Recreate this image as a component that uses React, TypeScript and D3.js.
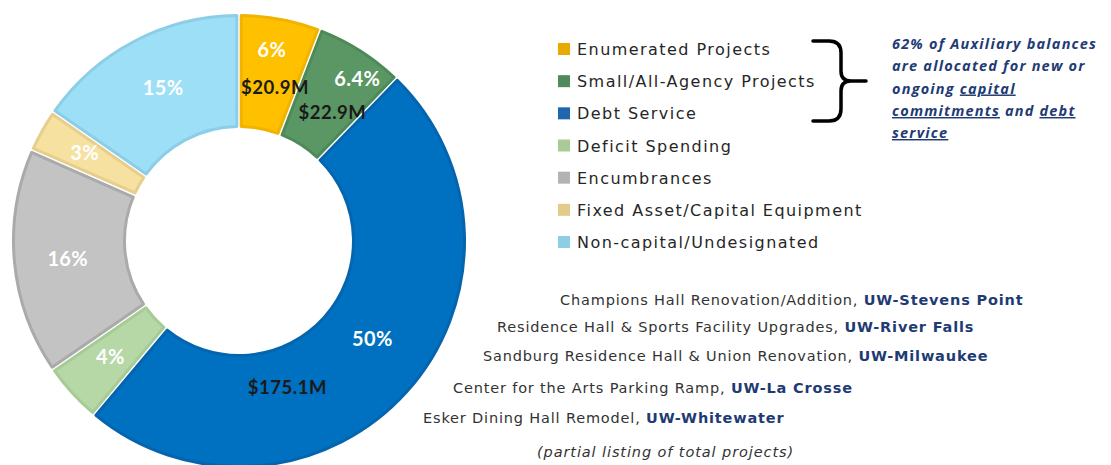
import React from "react";
import * as d3 from "d3";

// ---- data ----
const categories = [
  "Enumerated Projects",
  "Small/All-Agency Projects",
  "Debt Service",
  "Deficit Spending",
  "Encumbrances",
  "Fixed Asset/Capital Equipment",
  "Non-capital/Undesignated",
];
// $M (estimated from slice angles where not labelled)
const values = [20.9, 22.9, 175.1, 15.4, 58.0, 11.0, 55.0];
const percentLabels = ["6%", "6.4%", "50%", "4%", "16%", "3%", "15%"];
const dollarLabels = ["$20.9M", "$22.9M", "$175.1M", "", "", "", ""];

const projectNames = [
  "Champions Hall Renovation/Addition, ",
  "Residence Hall & Sports Facility Upgrades, ",
  "Sandburg Residence Hall & Union Renovation, ",
  "Center for the Arts Parking Ramp, ",
  "Esker Dining Hall Remodel, ",
];
const projectCampuses = [
  "UW-Stevens Point",
  "UW-River Falls",
  "UW-Milwaukee",
  "UW-La Crosse",
  "UW-Whitewater",
];
const footnote = "(partial listing of total projects)";

// ---- styles / layout ----
const fills = ["#FFC000", "#5A9764", "#0070C0", "#B6D7A6", "#C3C3C3", "#F6E1A0", "#9DDFF7"];
const strokes = ["#EFB300", "#4E8A58", "#0465AE", "#A7CB96", "#AAAAAA", "#E6CF8C", "#8CCDE7"];
const legendColors = ["#E8A900", "#4E8A5C", "#1F65B0", "#A9CB95", "#B3B3B3", "#E3CC8A", "#8ECDE6"];
const pctOffsets: [number, number][] = [[2, -25], [27, -20], [7, -17], [-3, 1], [-2, 1], [-6, -6], [3, -3]];
const dolOffsets: [number, number][] = [[5, 13], [2, 14], [-78, 32], [0, 0], [0, 0], [0, 0], [0, 0]];
const projX = [560, 497, 483, 453, 423];
const projY = [305, 332, 361, 393, 423];
const NAVY = "#1F3B73";

const W = 1111, H = 465;
const cx = 239, cy = 241;
const rIn = 114.5, rOut = 225.5;

export default function App() {
  const pie = d3.pie<number>().sort(null).value((d) => d).startAngle(0).endAngle(2 * Math.PI);
  const arcs = pie(values);
  const arc = d3.arc<d3.PieArcDatum<number>>()
    .innerRadius(rIn).outerRadius(rOut)
    .padAngle(0.026).padRadius(170);
  const mid = d3.arc<d3.PieArcDatum<number>>().innerRadius(rIn).outerRadius(rOut);

  const legendY = d3.scalePoint<string>().domain(categories).range([49, 242]);

  const brace =
    "M813,41 H829 Q841,41 841,53 V71 Q841,81 851,81 H866 M851,81 Q841,81 841,91 V109 Q841,121 829,121 H813";

  return (
    <svg width={W} height={H} style={{ position: "absolute", left: 0, top: 0, background: "#fff" }}>
      <g transform={`translate(${cx},${cy})`}>
        {arcs.map((a, i) => (
          <path key={i} d={arc(a) || ""} fill={fills[i]} stroke={strokes[i]} strokeWidth={3} strokeLinejoin="round" />
        ))}
        {arcs.map((a, i) => {
          const [x, y] = mid.centroid(a);
          return (
            <g key={"l" + i}>
              <text x={x + pctOffsets[i][0]} y={y + pctOffsets[i][1]} textAnchor="middle" dominantBaseline="central"
                fill="#fff" fontFamily="Lato, 'DejaVu Sans', sans-serif" fontWeight={700} fontSize={20} letterSpacing={0.4}>
                {percentLabels[i]}
              </text>
              {dollarLabels[i] && (
                <text x={x + dolOffsets[i][0]} y={y + dolOffsets[i][1]} textAnchor="middle" dominantBaseline="central"
                  fill="#1a1a1a" fontFamily="Lato, 'DejaVu Sans', sans-serif" fontWeight={700} fontSize={18.5} letterSpacing={0.5}>
                  {dollarLabels[i]}
                </text>
              )}
            </g>
          );
        })}
      </g>

      {/* legend */}
      <g fontFamily="'DejaVu Sans', sans-serif" fontSize={16} fill="#262626">
        {categories.map((c, i) => (
          <g key={c} transform={`translate(558,${legendY(c)})`}>
            <rect x={0} y={-6} width={12} height={12} fill={legendColors[i]} />
            <text x={19} y={0.5} dominantBaseline="central" letterSpacing={1.45}>{c}</text>
          </g>
        ))}
      </g>

      {/* brace */}
      <path d={brace} fill="none" stroke="#000" strokeWidth={3.5} strokeLinecap="round" strokeLinejoin="round" />

      {/* annotation */}
      <g fontFamily="'Open Sans', sans-serif" fontWeight={700} fontStyle="italic" fontSize={14.5} fill={NAVY} letterSpacing={1.2}>
        <text x={892} y={49}>62% of Auxiliary balances</text>
        <text x={892} y={71}>are allocated for new or</text>
        <text x={892} y={93.5}>ongoing <tspan textDecoration="underline">capital</tspan></text>
        <text x={892} y={116}><tspan textDecoration="underline">commitments</tspan> and <tspan textDecoration="underline">debt</tspan></text>
        <text x={892} y={138}><tspan textDecoration="underline">service</tspan></text>
      </g>

      {/* project list */}
      <g fontFamily="'DejaVu Sans', sans-serif" fontSize={14.5}>
        {projectNames.map((p, i) => (
          <text key={p} x={projX[i]} y={projY[i]} fill="#333" letterSpacing={0.83}>
            {p}
            <tspan fill={NAVY} fontWeight={700}>{projectCampuses[i]}</tspan>
          </text>
        ))}
        <text x={537} y={457} fill="#333" fontStyle="italic" letterSpacing={0.9}>{footnote}</text>
      </g>
    </svg>
  );
}
